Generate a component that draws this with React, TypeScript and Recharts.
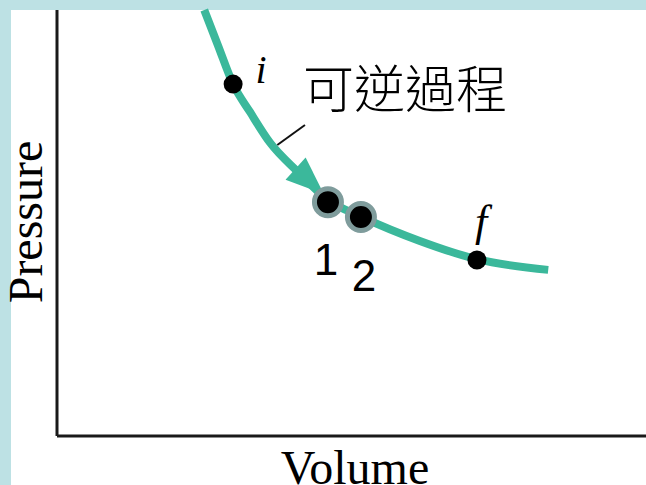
import {
  ComposedChart,
  Customized,
  Line,
  ReferenceLine,
  Scatter,
  XAxis,
  YAxis,
} from "recharts";

// reversible process curve (volume, pressure)
const volumes = [2.5, 2.73, 2.99, 3.28, 3.62, 4.09, 4.6, 5.18, 6.16, 7.13, 8.34];
const pressures = [10.0, 9.18, 8.26, 7.6, 6.88, 6.2, 5.54, 5.14, 4.58, 4.15, 3.9];

const stateNames = ["i", "f"];
const stateVolumes = [2.99, 7.13];
const statePressures = [8.26, 4.13];

const stepNames = ["1", "2"];
const stepVolumes = [4.6, 5.16];
const stepPressures = [5.49, 5.14];

const arrowTip = { v: 4.53, p: 5.68 };

const curveData = volumes.map((v, i) => ({ v, p: pressures[i] }));
const stateData = stateNames.map((name, i) => ({ name, v: stateVolumes[i], p: statePressures[i] }));
const stepData = stepNames.map((name, i) => ({ name, v: stepVolumes[i], p: stepPressures[i] }));

const TEAL = "#3bb89b";
const SERIF = "'Liberation Serif', 'Times New Roman', serif";

const Arrow = (props: any) => {
  const { cx, cy } = props;
  return (
    <polygon
      points="0,0 -38,-15 -38,15"
      fill={TEAL}
      transform={`translate(${cx},${cy}) rotate(42)`}
    />
  );
};

const BigDot = (props: any) => (
  <circle cx={props.cx} cy={props.cy} r={13.5} fill="#000" stroke="#7f9c9c" strokeWidth={5} />
);

const SmallDot = (props: any) => <circle cx={props.cx} cy={props.cy} r={9.5} fill="#000" />;

const Texts = () => (
  <g>
    <text x={261} y={83} fontFamily={SERIF} fontStyle="italic" fontSize={40} textAnchor="middle">
      i
    </text>
    <text x={481} y={236} fontFamily={SERIF} fontStyle="italic" fontSize={44} textAnchor="middle">
      f
    </text>
    <text x={303} y={108} fontFamily="'Noto Sans CJK TC'" fontSize={51} fontWeight={300}>
      可逆過程
    </text>
    <text x={326} y={275} fontFamily="'Liberation Sans', Arial" fontSize={44} textAnchor="middle">
      1
    </text>
    <text x={364} y={291} fontFamily="'Liberation Sans', Arial" fontSize={44} textAnchor="middle">
      2
    </text>
    <text
      x={42}
      y={222}
      fontFamily={SERIF}
      fontSize={48}
      textAnchor="middle"
      transform="rotate(-90, 42, 222)"
    >
      Pressure
    </text>
    <text x={355} y={484} fontFamily={SERIF} fontSize={48} textAnchor="middle">
      Volume
    </text>
  </g>
);

export default function App() {
  return (
    <div
      style={{
        position: "absolute",
        left: 0,
        top: 0,
        width: 646,
        height: 485,
        background: "#bde1e4",
        overflow: "hidden",
      }}
    >
      <div style={{ position: "absolute", left: 11, top: 10, right: 0, bottom: 0, background: "#fff" }} />
      <div style={{ position: "absolute", left: 0, top: 0 }}>
        <ComposedChart width={646} height={485} margin={{ top: 10, right: 0, bottom: 49, left: 57 }}>
          <XAxis type="number" dataKey="v" domain={[0, 10]} hide />
          <YAxis type="number" dataKey="p" domain={[0, 10]} hide />
          <ReferenceLine x={0} stroke="#1a1a1a" strokeWidth={3} />
          <ReferenceLine y={0} stroke="#1a1a1a" strokeWidth={3} />
          <Line
            data={curveData}
            dataKey="p"
            type="monotone"
            stroke={TEAL}
            strokeWidth={8}
            dot={false}
            activeDot={false}
            isAnimationActive={false}
          />
          <ReferenceLine
            segment={[
              { x: 3.74, y: 6.83 },
              { x: 4.21, y: 7.3 },
            ]}
            stroke="#111"
            strokeWidth={2}
          />
          <Scatter data={[arrowTip]} shape={Arrow} isAnimationActive={false} />
          <Scatter data={stateData} shape={SmallDot} isAnimationActive={false} />
          <Scatter data={stepData} shape={BigDot} isAnimationActive={false} />
          <Customized component={<Texts />} />
        </ComposedChart>
      </div>
    </div>
  );
}
